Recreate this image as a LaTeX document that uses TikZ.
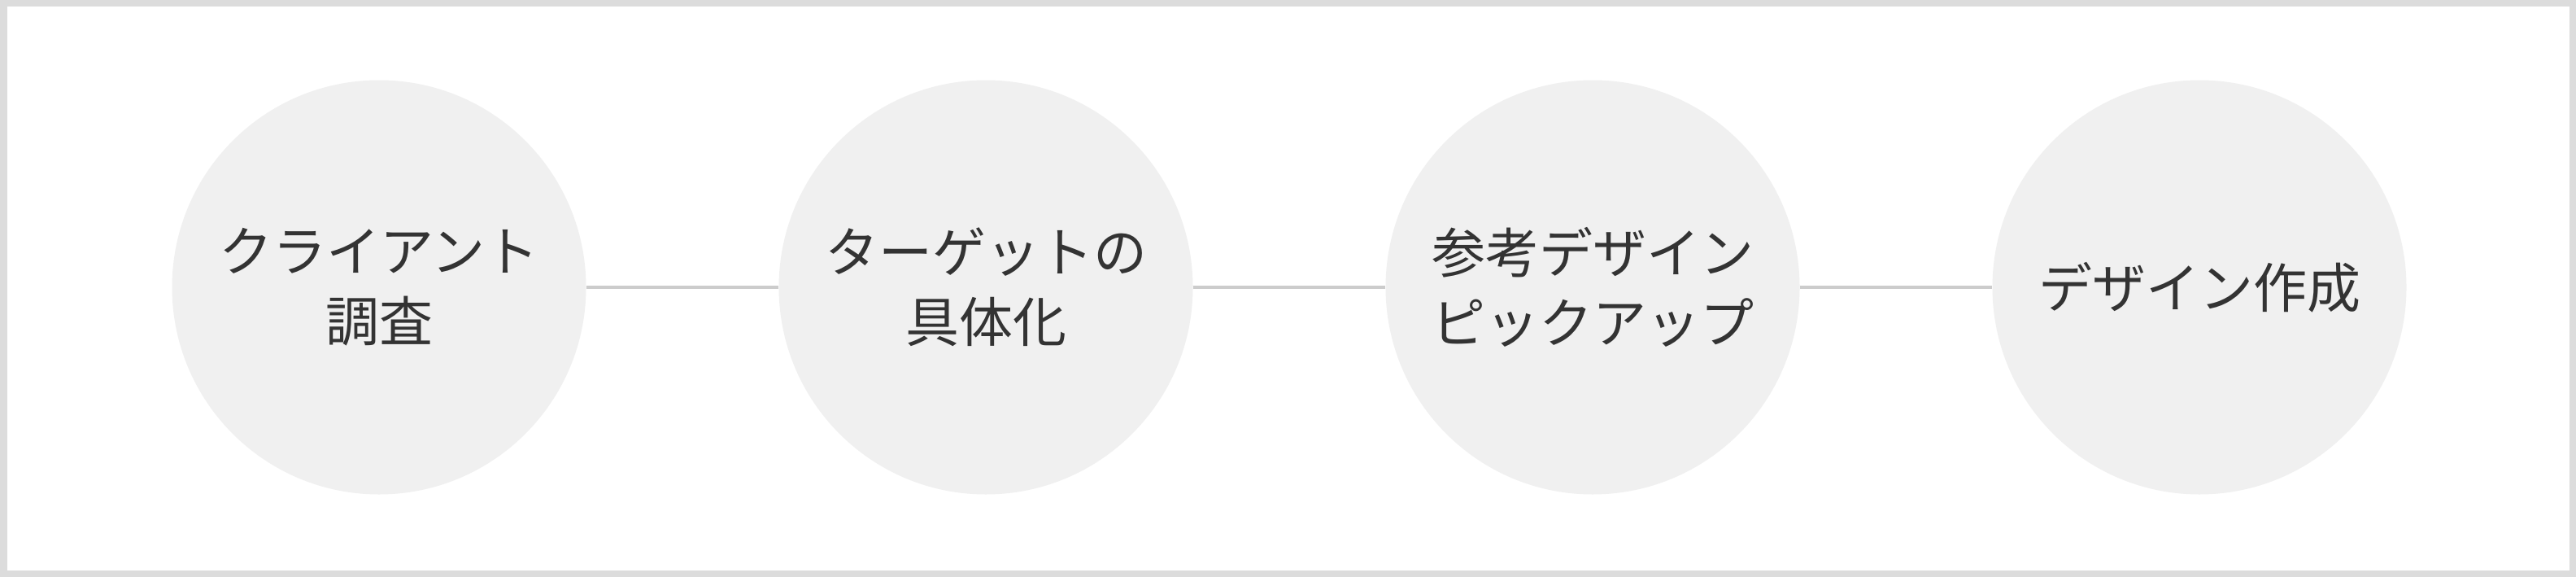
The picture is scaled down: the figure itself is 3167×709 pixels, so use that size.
\documentclass[tikz,border=0pt]{standalone}
\usepackage{fontspec}
\setmainfont{Noto Sans CJK JP}
\definecolor{framegray}{HTML}{DCDCDC}
\definecolor{circfill}{HTML}{F0F0F0}
\definecolor{linkgray}{HTML}{CCCCCC}
\definecolor{txt}{HTML}{333333}
\tikzset{
  stepcircle/.style={circle, fill=circfill, minimum size=509pt, inner sep=0pt,
    text=txt, align=center, font=\fontsize{66}{86}\selectfont},
  linkline/.style={draw=linkgray, line width=4pt}
}
\begin{document}
\begin{tikzpicture}[x=1pt,y=-1pt]
\useasboundingbox (0,0) rectangle (3167,709);
\fill[framegray] (0,0) rectangle (3167,709);
\fill[white] (8.5,8.5) rectangle (3158.5,700.5);
\node[stepcircle] (c1) at (466,353) {クライアント\\調査};
\node[stepcircle] (c2) at (1212,353) {ターゲットの\\具体化};
\node[stepcircle] (c3) at (1958,353) {参考デザイン\\ピックアップ};
\node[stepcircle] (c4) at (2704,353) {デザイン作成};
\draw[linkline] (c1) -- (c2);
\draw[linkline] (c2) -- (c3);
\draw[linkline] (c3) -- (c4);
\end{tikzpicture}
\end{document}
